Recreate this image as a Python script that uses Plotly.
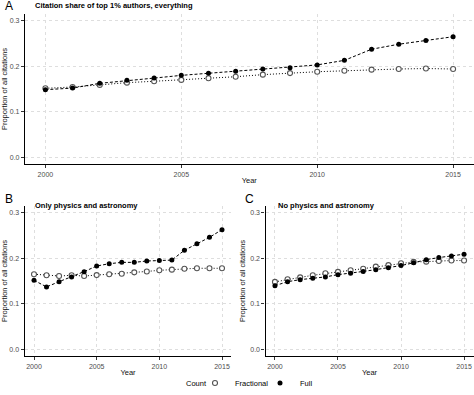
import plotly.graph_objects as go

years = list(range(2000, 2016))

a_full = [0.1485, 0.152, 0.1625, 0.169, 0.174, 0.180, 0.1846, 0.189, 0.194, 0.197, 0.203, 0.213, 0.2375, 0.2485, 0.2566, 0.265]
a_frac = [0.1515, 0.1544, 0.159, 0.164, 0.167, 0.170, 0.1735, 0.177, 0.1816, 0.185, 0.188, 0.190, 0.1926, 0.194, 0.195, 0.194]

b_full = [0.1515, 0.137, 0.1485, 0.159, 0.1706, 0.183, 0.188, 0.191, 0.191, 0.194, 0.195, 0.196, 0.2176, 0.232, 0.246, 0.263]
b_frac = [0.165, 0.1625, 0.161, 0.1625, 0.161, 0.163, 0.1647, 0.166, 0.169, 0.171, 0.1735, 0.175, 0.177, 0.178, 0.178, 0.178]

c_full = [0.1397, 0.1485, 0.153, 0.156, 0.159, 0.164, 0.167, 0.171, 0.175, 0.179, 0.184, 0.190, 0.197, 0.2015, 0.205, 0.209]
c_frac = [0.148, 0.1537, 0.158, 0.1625, 0.167, 0.170, 0.1735, 0.177, 0.1816, 0.185, 0.189, 0.192, 0.1926, 0.194, 0.195, 0.195]

panel_titles = ["Citation share of top 1% authors, everything", "Only physics and astronomy", "No physics and astronomy"]
panel_letters = ["A", "B", "C"]
y_ticks = [0.0, 0.1, 0.2, 0.3]
y_tick_labels = ["0.0", "0.1", "0.2", "0.3"]
x_ticks = [2000, 2005, 2010, 2015]

W, H = 474, 395
FONT = "Liberation Sans, Arial, sans-serif"

def px_x(a, b):
    return [a / W, b / W]

def px_y(top, bottom):
    return [1 - bottom / H, 1 - top / H]

panels = [
    dict(full=a_full, frac=a_frac, xd=px_x(25, 473.5), yd=px_y(14, 164), ax="", title_x=33, title_y=6, letter_x=3, letter_y=6),
    dict(full=b_full, frac=b_frac, xd=px_x(24.6, 231.4), yd=px_y(206, 356), ax="2", title_x=33, title_y=205, letter_x=3, letter_y=199),
    dict(full=c_full, frac=c_frac, xd=px_x(265.5, 473.5), yd=px_y(206, 356), ax="3", title_x=275.5, title_y=205, letter_x=243, letter_y=199),
]

fig = go.Figure()
layout = dict(
    template="none",
    width=W, height=H,
    margin=dict(l=0, r=0, t=0, b=0, autoexpand=False),
    plot_bgcolor="white", paper_bgcolor="white",
    font=dict(family=FONT, size=7, color="#4d4d4d"),
    showlegend=True,
    legend=dict(orientation="h", x=195 / W, xanchor="left", y=1 - 383 / H, yanchor="middle",
                font=dict(size=7.5, color="black"), itemwidth=30, tracegroupgap=0,
                entrywidth=20, entrywidthmode="pixels",
                bgcolor="rgba(0,0,0,0)", borderwidth=0),
)
annotations = []
for i, p in enumerate(panels):
    xa = "x" + p["ax"]
    ya = "y" + p["ax"]
    fig.add_trace(go.Scatter(x=years, y=p["frac"], mode="lines+markers", xaxis=xa, yaxis=ya,
                             line=dict(color="black", width=1, dash="1px,2px"),
                             marker=dict(symbol="circle", size=5, color="white", line=dict(color="#555555", width=1.1)),
                             showlegend=False))
    fig.add_trace(go.Scatter(x=years, y=p["full"], mode="lines+markers", xaxis=xa, yaxis=ya,
                             line=dict(color="black", width=1, dash="3px,2px"),
                             marker=dict(symbol="circle", size=5, color="black"),
                             showlegend=False))
    axis_common = dict(showline=True, linecolor="black", linewidth=1.2, ticks="outside", ticklen=3,
                       tickcolor="#333333", tickwidth=1, showgrid=True, gridcolor="#dedede",
                       griddash="dot", gridwidth=1, zeroline=False, automargin=False,
                       tickfont=dict(size=7, color="#4d4d4d", family=FONT))
    layout["xaxis" + p["ax"]] = dict(axis_common, domain=p["xd"], range=[1999.25, 2015.75],
                                     tickvals=x_ticks, anchor=ya,
                                     title=dict(text="Year", font=dict(size=7.5, color="#111111"), standoff=1))
    layout["yaxis" + p["ax"]] = dict(axis_common, domain=p["yd"], range=[-0.015, 0.315],
                                     tickvals=y_ticks, ticktext=y_tick_labels, anchor=xa,
                                     title=dict(text="Proportion of all citations", font=dict(size=7.5, color="#111111"), standoff=3))
    annotations.append(dict(text="<b>" + panel_titles[i] + "</b>", x=p["title_x"] / W, y=1 - p["title_y"] / H,
                            xref="paper", yref="paper", xanchor="left", yanchor="middle", showarrow=False,
                            font=dict(size=7.5, color="black", family=FONT)))
    annotations.append(dict(text=panel_letters[i], x=p["letter_x"] / W, y=1 - p["letter_y"] / H,
                            xref="paper", yref="paper", xanchor="left", yanchor="middle", showarrow=False,
                            font=dict(size=12, color="black", family=FONT)))

annotations.append(dict(text="Count", x=209 / W, y=1 - 383 / H, xref="paper", yref="paper",
                        xanchor="right", yanchor="middle", showarrow=False,
                        font=dict(size=7.5, color="black", family=FONT)))

fig.add_trace(go.Scatter(x=[None], y=[None], mode="markers", name="Fractional",
                         marker=dict(symbol="circle", size=5, color="white", line=dict(color="#555555", width=1.1))))
fig.add_trace(go.Scatter(x=[None], y=[None], mode="markers", name="Full",
                         marker=dict(symbol="circle", size=5, color="black")))

layout["annotations"] = annotations
fig.update_layout(**layout)
fig.write_html("out.html", config={"displayModeBar": False},
               post_script="document.body.style.margin='0';document.body.style.padding='0';document.body.style.overflow='hidden';")
